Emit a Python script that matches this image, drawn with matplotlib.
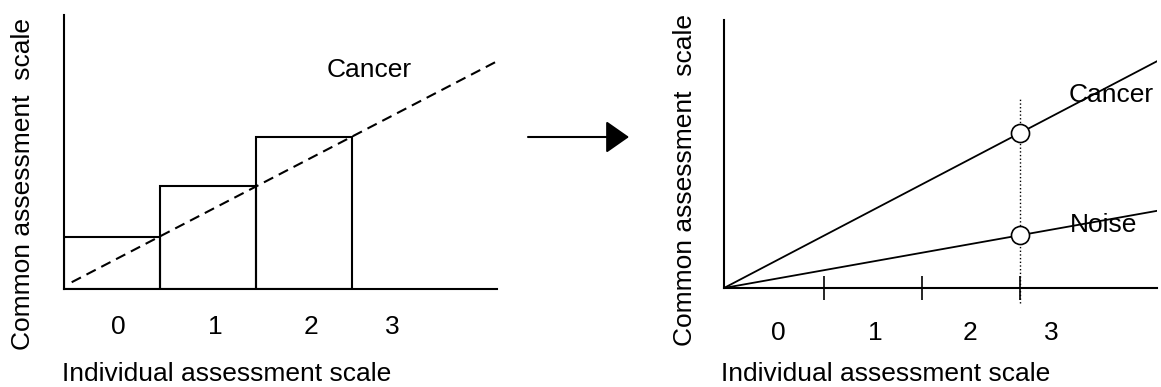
import matplotlib
matplotlib.use('Agg')
import matplotlib.pyplot as plt
from matplotlib.patches import FancyArrowPatch

plt.rcParams['font.family'] = ['Liberation Sans', 'DejaVu Sans']

W, H = 1161, 387

# ── Datos panel izquierdo (escala individual en bloques) ─────────────────────
bar_pos     = [0, 1, 2]
bar_heights = [1.0, 1.98, 2.92]
left_cancer_x = [0.08, 4.51]
left_cancer_y = [0.13, 4.38]
left_label_pos = [0.57, 1.58, 2.57, 3.42]
tick_labels = ["0", "1", "2", "3"]

# ── Datos panel derecho (escala común, rectas) ───────────────────────────────
line_x   = [0, 4.42]
cancer_y = [0, 2.31]
noise_y  = [0, 0.786]
mark_x   = 3.02
mark_cancer = 1.577
mark_noise  = 0.537
right_tick_pos  = [1.02, 2.02, 3.02]
right_label_pos = [0.55, 1.54, 2.51, 3.34]

FS = 19
LW = 1.5


def px_axes(x0, y_top, x1, y_bot):
    """Rect de ejes a partir de píxeles (origen arriba-izquierda)."""
    return [x0 / W, 1 - y_bot / H, (x1 - x0) / W, (y_bot - y_top) / H]


fig = plt.figure(figsize=(W / 100, H / 100), dpi=100)
fig.patch.set_facecolor("white")

# ── Panel izquierdo ──────────────────────────────────────────────────────────
ax1 = fig.add_axes(px_axes(64, 15, 497, 289))
ax1.set_xlim(0, 4.51)
ax1.set_ylim(0, 5.27)
ax1.bar(bar_pos, bar_heights, width=1, align="edge", fill=False,
        edgecolor="black", linewidth=LW, zorder=2)
ax1.plot(left_cancer_x, left_cancer_y, color="black", lw=LW,
         linestyle=(0, (5, 3)), zorder=3)
ax1.text(2.74, 4.08, "Cancer", fontsize=FS, va="baseline", ha="left")

for s in ["top", "right"]:
    ax1.spines[s].set_visible(False)
for s in ["left", "bottom"]:
    ax1.spines[s].set_linewidth(LW)
ax1.set_yticks([])
ax1.set_xticks(left_label_pos, tick_labels, fontsize=FS)
ax1.tick_params(axis="x", length=0, pad=19)

# ── Panel derecho ────────────────────────────────────────────────────────────
ax2 = fig.add_axes(px_axes(724, 20, 1157, 288))
ax2.set_xlim(0, 4.42)
ax2.set_ylim(0, 2.73)
ax2.plot(line_x, cancer_y, color="black", lw=1.3, zorder=3)
ax2.plot(line_x, noise_y, color="black", lw=1.3, zorder=3)
ax2.plot([mark_x, mark_x], [-0.15, 1.95], color="black", lw=1,
         linestyle=":", clip_on=False, zorder=2)
ax2.plot([mark_x, mark_x], [mark_cancer, mark_noise], linestyle="none",
         marker="o", markersize=13, mfc="white", mec="black", mew=1.2,
         zorder=4)
ax2.text(3.52, 1.89, "Cancer", fontsize=FS, va="baseline", ha="left")
ax2.text(3.53, 0.57, "Noise", fontsize=FS, va="baseline", ha="left")

for s in ["top", "right"]:
    ax2.spines[s].set_visible(False)
for s in ["left", "bottom"]:
    ax2.spines[s].set_linewidth(LW)
ax2.set_yticks([])
ax2.set_xticks(right_tick_pos, [""] * len(right_tick_pos))
ax2.tick_params(axis="x", which="major", direction="inout", length=17,
                width=1.2)
ax2.set_xticks(right_label_pos, tick_labels, minor=True, fontsize=FS)
ax2.tick_params(axis="x", which="minor", length=0, pad=24)

# ── Etiquetas de ejes ────────────────────────────────────────────────────────
fig.text(62 / W, 1 - 381 / H, "Individual assessment scale", fontsize=FS,
         ha="left", va="baseline")
fig.text(886 / W, 1 - 381 / H, "Individual assessment scale", fontsize=FS,
         ha="center", va="baseline")
fig.text(23 / W, 1 - 184 / H, "Common assessment  scale", fontsize=FS,
         rotation=90, ha="center", va="center")
fig.text(685 / W, 1 - 180 / H, "Common assessment  scale", fontsize=FS,
         rotation=90, ha="center", va="center")

# ── Flecha entre paneles ─────────────────────────────────────────────────────
arrow = FancyArrowPatch((528 / W, 1 - 137 / H), (629 / W, 1 - 137 / H),
                        transform=fig.transFigure,
                        arrowstyle="-|>,head_length=1.0,head_width=0.7",
                        mutation_scale=14.4, lw=LW, color="black",
                        shrinkA=0, shrinkB=0)
fig.add_artist(arrow)

fig.savefig("out.png", dpi=100, facecolor="white")
